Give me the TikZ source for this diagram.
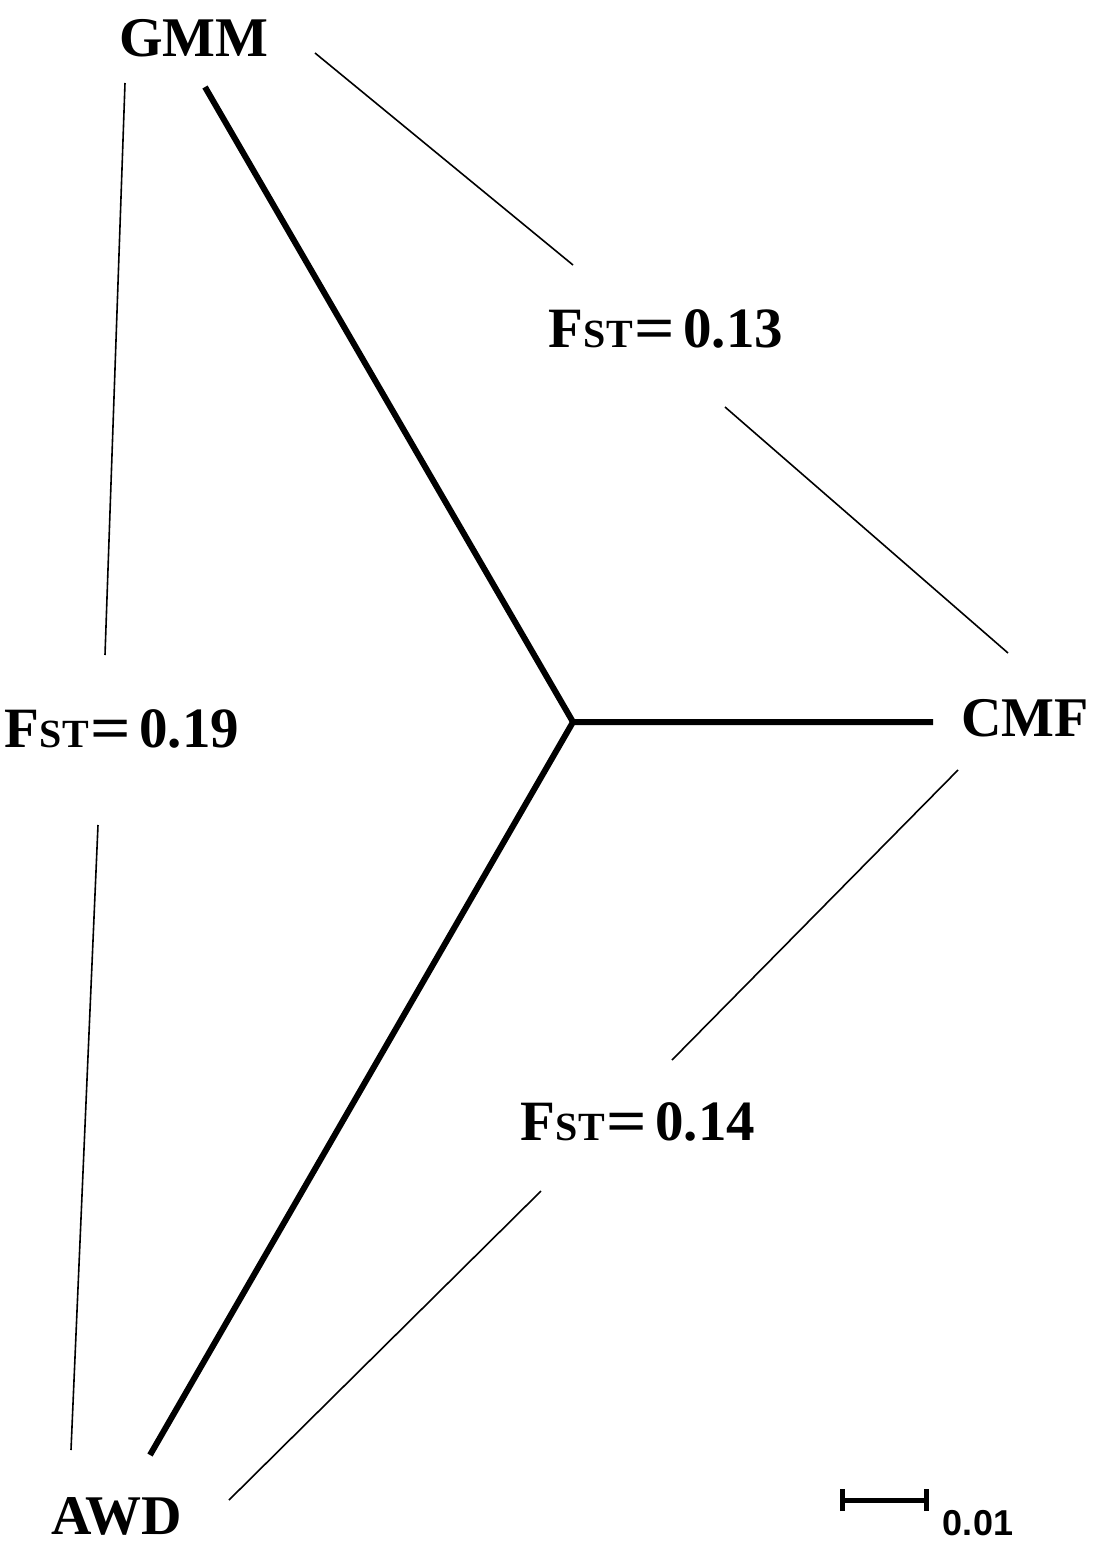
\documentclass[tikz,border=0pt]{standalone}
\usepackage{fontspec}
\setmainfont{Liberation Serif}
\newfontfamily\barfont{Liberation Sans}
\tikzset{
  pop/.style={font=\fontsize{56}{60}\selectfont\bfseries, inner sep=0pt, anchor=center},
  fst/.style={font=\fontsize{57}{60}\selectfont\bfseries, inner sep=0pt, anchor=center},
  tree/.style={line width=6pt, line cap=butt, line join=miter},
  thin/.style={line width=1.6pt},
  bar/.style={line width=5pt}
}
\newcommand{\fstlab}[1]{F{\fontsize{40}{40}\selectfont ST}\hspace{2pt}\raisebox{-2pt}{\scalebox{1.25}[1.1]{=}}\hspace{8pt}#1}
\begin{document}
\begin{tikzpicture}[x=1pt,y=-1pt]
\useasboundingbox (0,0) rectangle (1094,1544);
% population labels
\node[pop] (gmm) at (194,38) {GMM};
\node[pop] (cmf) at (1025,718) {CMF};
\node[pop] (awd) at (117,1516) {AWD};
% Fst labels
\node[fst] (f13) at (666,330) {\fstlab{0.13}};
\node[fst] (f19) at (122,730) {\fstlab{0.19}};
\node[fst] (f14) at (638,1123) {\fstlab{0.14}};
% tree
\coordinate (ctr) at (573,722);
\coordinate (tg) at (205,87);
\coordinate (tc) at (933,722);
\coordinate (ta) at (150,1455);
\draw[tree] (tg) -- (ctr) -- (tc);
\draw[tree] (ctr) -- (ta);
% thin connectors
\coordinate (gc1) at (315,53);
\coordinate (gc2) at (573,265);
\coordinate (gc3) at (725,407);
\coordinate (gc4) at (1008,653);
\draw[thin] (gc1) -- (gc2);
\draw[thin] (gc3) -- (gc4);
\coordinate (ga1) at (125,83);
\coordinate (ga2) at (105,655);
\coordinate (ga3) at (98,825);
\coordinate (ga4) at (71,1450);
\draw[thin] (ga1) -- (ga2);
\draw[thin] (ga3) -- (ga4);
\coordinate (ca1) at (958,770);
\coordinate (ca2) at (672,1060);
\coordinate (ca3) at (541,1191);
\coordinate (ca4) at (229,1500);
\draw[thin] (ca1) -- (ca2);
\draw[thin] (ca3) -- (ca4);
% scale bar
\coordinate (sb1) at (842,1500);
\coordinate (sb2) at (926,1500);
\draw[bar] (sb1) -- (sb2);
\draw[line width=5pt] ([yshift=-11pt]sb1) -- ([yshift=11pt]sb1);
\draw[line width=5pt] ([yshift=-11pt]sb2) -- ([yshift=11pt]sb2);
\node[font=\fontsize{36}{38}\selectfont\barfont\bfseries, inner sep=0pt] (sbl) at (978,1523) {0.01};
\end{tikzpicture}
\end{document}
